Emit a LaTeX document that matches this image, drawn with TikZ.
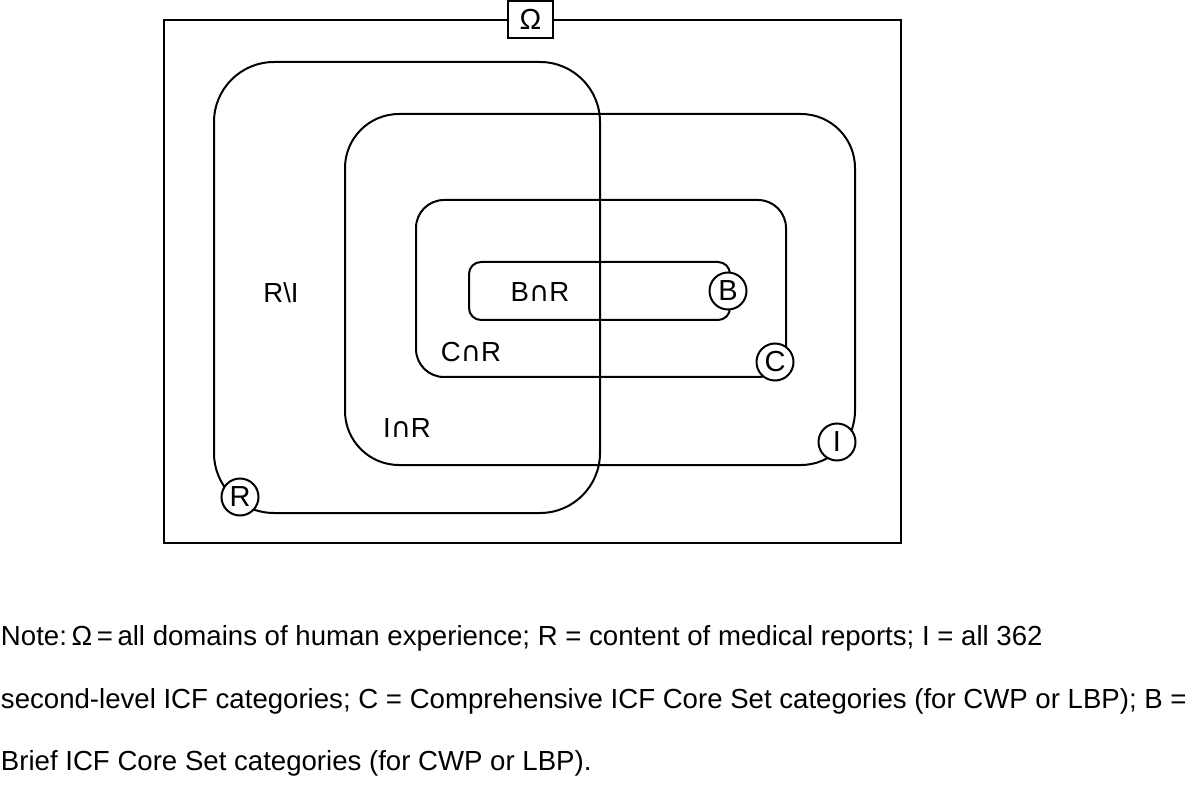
\documentclass[tikz,border=0pt]{standalone}
\usepackage{fontspec}
\setmainfont{Liberation Sans}
\newfontfamily\symfont{DejaVu Sans}
\newcommand{\inter}{{\symfont ∩}}
\begin{document}
\begin{tikzpicture}[x=0.5pt,y=-0.5pt,line width=1pt]
	\def \noteone{645}
	\def \notetwo{708}
	\def \notethree{770}
	\tikzstyle{set-line}=[draw=black!100,line width=1pt]
	\tikzstyle{tag-node}=[circle,draw=black!100,fill=white,line width=1pt,inner sep=0pt,minimum size=18.5pt,font=\fontsize{14.5}{16}\selectfont]
	\tikzstyle{omega-node}=[rectangle,draw=black!100,fill=white,line width=1pt,inner sep=0pt,minimum width=22.5pt,minimum height=18.5pt,font=\fontsize{14.5}{16}\selectfont]
	\tikzstyle{set-label}=[inner sep=0pt,font=\fontsize{13.8}{16}\selectfont]
	\tikzstyle{note}=[anchor=base west,inner sep=0pt,font=\fontsize{13.8}{16}\selectfont]
	\useasboundingbox (0,0) rectangle (1200,786);

	% universe
	\draw[set-line] (164,20) rectangle (901,543);
	\node[omega-node] (omega) at (530.5,19.5) {Ω};

	% sets
	\draw[set-line,rounded corners=30pt] (214,62) rectangle (600,513);
	\draw[set-line,rounded corners=27pt] (345,114) rectangle (855,465);
	\draw[set-line,rounded corners=14pt] (416,200) rectangle (786,377);
	\draw[set-line,rounded corners=6pt] (469,262) rectangle (730,320);

	% set tags
	\node[tag-node] (tagR)	at (240,497)	{R};
	\node[tag-node] (tagI)	at (837,442)	{I};
	\node[tag-node] (tagC)	at (775,362)	{C};
	\node[tag-node] (tagB)	at (728,291)	{B};

	% region labels
	\node[set-label] (RnotI)	at (281,293)	{R\textbackslash I};
	\node[set-label] (BandR)	at (540,292)	{B\inter R};
	\node[set-label] (CandR)	at (471,352)	{C\inter R};
	\node[set-label] (IandR)	at (407,428)	{I\inter R};

	% note
	\node[note] (note1) at (0,\noteone)	{Note:\,Ω\,=\,all domains of human experience; R = content of medical reports; I = all 362};
	\node[note] (note2) at (0,\notetwo)	{second-level ICF categories; C = Comprehensive ICF Core Set categories (for CWP or LBP); B =};
	\node[note] (note3) at (0,\notethree)	{Brief ICF Core Set categories (for CWP or LBP).};
\end{tikzpicture}
\end{document}
